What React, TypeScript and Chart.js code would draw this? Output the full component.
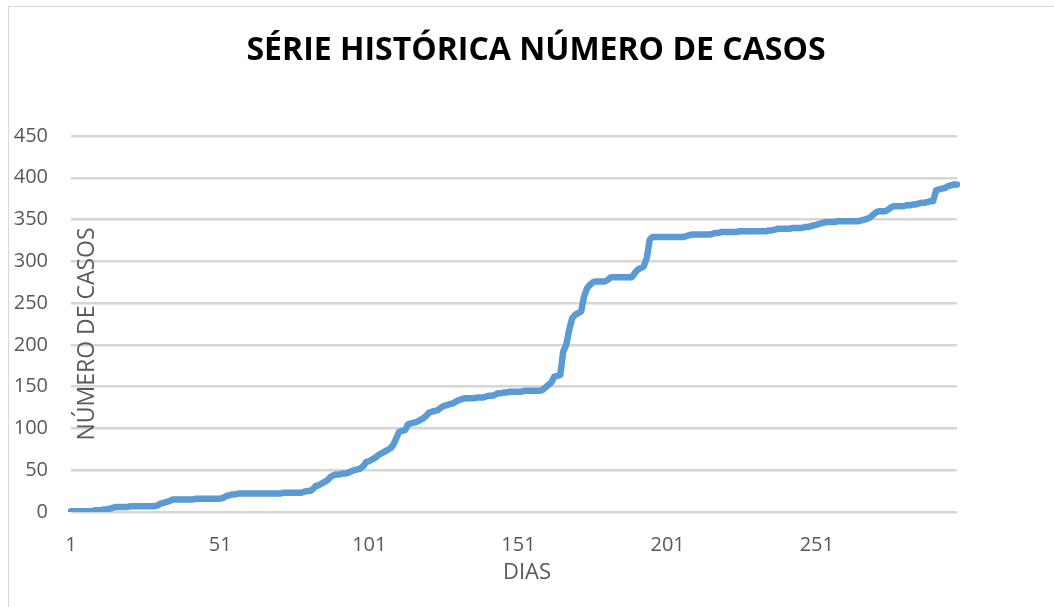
import { useEffect, useRef } from "react";
import { Chart, registerables } from "chart.js";

Chart.register(...registerables);

const TITLE = "SÉRIE HISTÓRICA NÚMERO DE CASOS";
const X_TITLE = "DIAS";
const Y_TITLE = "NÚMERO DE CASOS";
const X_TICK_LABELS = ["1", "51", "101", "151", "201", "251"];
const Y_MIN = 0;
const Y_MAX = 450;
const Y_STEP = 50;

// cumulative cases per day (days 1..298)
const CASES = [
  1, 1, 1, 1, 1, 1, 1, 1, 2, 2,
  2, 3, 3, 4, 5, 6, 6, 6, 6, 6,
  7, 7, 7, 7, 7, 7, 7, 7, 7, 8,
  10, 11, 12, 13, 15, 15, 15, 15, 15, 15,
  15, 15, 16, 16, 16, 16, 16, 16, 16, 16,
  16, 17, 19, 20, 21, 21, 22, 22, 22, 22,
  22, 22, 22, 22, 22, 22, 22, 22, 22, 22,
  22, 23, 23, 23, 23, 23, 23, 23, 24, 25,
  25, 27, 31, 32, 34, 36, 38, 42, 44, 45,
  45, 46, 46, 47, 49, 50, 51, 52, 55, 60,
  61, 63, 65, 68, 70, 72, 74, 76, 80, 88,
  96, 97, 98, 105, 106, 107, 108, 110, 112, 115,
  119, 120, 121, 122, 125, 127, 128, 129, 130, 132,
  134, 135, 136, 136, 136, 136, 137, 137, 137, 138,
  139, 139, 140, 142, 142, 143, 143, 144, 144, 144,
  144, 144, 145, 145, 145, 145, 145, 145, 146, 149,
  152, 155, 162, 163, 164, 192, 200, 218, 232, 236,
  238, 240, 258, 268, 272, 275, 276, 276, 276, 276,
  278, 281, 281, 281, 281, 281, 281, 281, 281, 286,
  290, 292, 294, 304, 326, 329, 329, 329, 329, 329,
  329, 329, 329, 329, 329, 329, 330, 331, 332, 332,
  332, 332, 332, 332, 332, 333, 334, 334, 335, 335,
  335, 335, 335, 335, 336, 336, 336, 336, 336, 336,
  336, 336, 336, 336, 337, 337, 338, 339, 339, 339,
  339, 339, 340, 340, 340, 340, 341, 341, 342, 343,
  344, 345, 346, 347, 347, 347, 347, 348, 348, 348,
  348, 348, 348, 348, 348, 349, 350, 351, 353, 356,
  359, 360, 360, 360, 362, 365, 366, 366, 366, 366,
  367, 367, 368, 368, 369, 370, 370, 371, 372, 372,
  385, 386, 387, 388, 390, 391, 392, 392,
];

const DAYS = CASES.map((_, i) => String(i + 1));

const textPlugin = {
  id: "chartTexts",
  afterDraw(chart: any) {
    const { ctx, chartArea } = chart;
    ctx.save();
    ctx.textAlign = "center";
    ctx.textBaseline = "middle";
    ctx.fillStyle = "#000000";
    ctx.font = 'bold 32px "Open Sans"';
    ctx.fillText(TITLE, 536, 51);
    ctx.fillStyle = "#595959";
    ctx.font = '22px "Open Sans"';
    ctx.fillText(X_TITLE, 527, 573);
    ctx.font = '23px "Open Sans"';
    ctx.translate(chartArea.left + 16, chartArea.top + 198);
    ctx.rotate(-Math.PI / 2);
    ctx.fillText(Y_TITLE, 0, 0);
    ctx.restore();
  },
};

export default function App() {
  const ref = useRef<HTMLCanvasElement | null>(null);

  useEffect(() => {
    if (!ref.current) return;
    const chart = new Chart(ref.current, {
      type: "line",
      data: {
        labels: DAYS,
        datasets: [
          {
            label: "Casos",
            data: CASES,
            borderColor: "#5b9bd5",
            backgroundColor: "#5b9bd5",
            borderWidth: 6.5,
            borderCapStyle: "round",
            borderJoinStyle: "round",
            pointRadius: 0,
            tension: 0,
            fill: false,
          },
        ],
      },
      options: {
        animation: false,
        responsive: false,
        maintainAspectRatio: false,
        layout: { padding: { top: 136, right: 97, left: 0, bottom: 0 } },
        plugins: {
          legend: { display: false },
          title: { display: false },
          tooltip: { enabled: false },
        },
        scales: {
          x: {
            type: "category",
            offset: false,
            grid: { display: false, drawTicks: false },
            border: { display: false },
            afterFit: (s: any) => {
              s.height = 95;
            },
            ticks: {
              autoSkip: false,
              maxRotation: 0,
              minRotation: 0,
              padding: 21,
              color: "#595959",
              font: { family: '"Open Sans"', size: 20 },
              callback: (_v: any, i: number) =>
                X_TICK_LABELS.includes(DAYS[i]) ? DAYS[i] : "",
            },
          },
          y: {
            min: Y_MIN,
            max: Y_MAX,
            afterFit: (s: any) => {
              s.width = 71;
            },
            grid: { color: "#d6d6d6", lineWidth: 2.5, drawTicks: false },
            border: { display: false },
            ticks: {
              stepSize: Y_STEP,
              padding: 23,
              color: "#595959",
              font: { family: '"Open Sans"', size: 20 },
            },
          },
        },
      },
      plugins: [textPlugin],
    });
    return () => chart.destroy();
  }, []);

  return (
    <div
      style={{
        position: "fixed",
        left: 0,
        top: 0,
        width: 1054,
        height: 607,
        overflow: "hidden",
        background: "#ffffff",
      }}
    >
      <div
        style={{
          position: "absolute",
          left: 8,
          top: 6,
          width: 1100,
          height: 700,
          borderLeft: "1px solid #d9d9d9",
          borderTop: "1px solid #d9d9d9",
        }}
      />
      <canvas
        ref={ref}
        width={1054}
        height={607}
        style={{ position: "absolute", left: 0, top: 0 }}
      />
    </div>
  );
}
